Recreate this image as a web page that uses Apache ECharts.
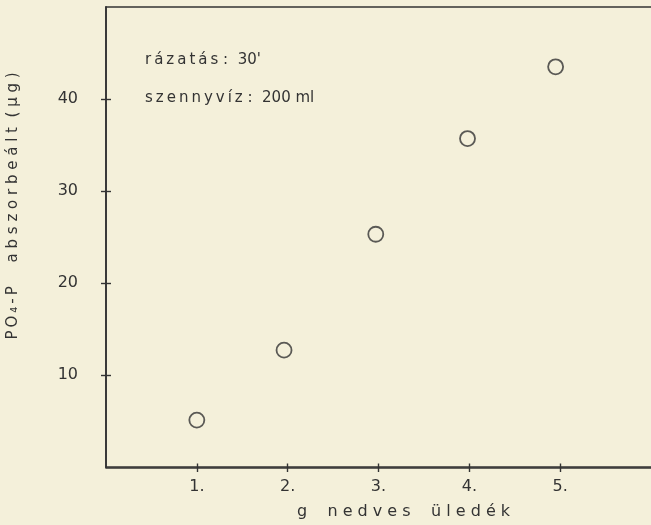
<!DOCTYPE html>
<html>
<head>
<meta charset="utf-8">
<script src="https://cdn.jsdelivr.net/npm/echarts@6/dist/echarts.min.js"></script>
<style>
  html, body { margin: 0; padding: 0; background: #f4f0da; }
  #chart { width: 651px; height: 525px; }
</style>
</head>
<body>
<div id="chart"></div>
<script>
// Adsorbed PO4-P versus mass of wet sediment
const sedimentGrams = [1, 1.96, 2.97, 3.98, 4.95];
const adsorbedPO4P = [5.1, 12.7, 25.3, 35.7, 43.5];
const xTickValues = [1, 2, 3, 4, 5];
const xTickLabels = ['1.', '2.', '3.', '4.', '5.'];
const yTickValues = [10, 20, 30, 40];

// hand-lettered look: thin spaces between letters
const spaced = s => s.split('').join('\u2009');
const notes = [spaced('rázatás') + ' :  30\'', spaced('szennyvíz') + ' :  200 ml'];
const xName = 'g    n e d v e s    ü l e d é k';
const yName = spaced('PO₄-P') + '     a b s z o r b e á l t  ( µ g )';

const ink = '#333333';
const font = 'DejaVu Sans';

const points = sedimentGrams.map((g, i) => [g, adsorbedPO4P[i]]);
const xLabelOf = Object.fromEntries(xTickValues.map((v, i) => [v, xTickLabels[i]]));

const tickStyle = { color: ink, width: 1.4 };
const frameLine = { show: true, lineStyle: { color: ink, width: 1.6 } };
const gridBox = { left: 106, top: 7, width: 552, height: 460.5 };

const chart = echarts.init(document.getElementById('chart'));
chart.setOption({
  backgroundColor: '#f4f0da',
  animation: false,
  // second grid carries the inner half of each tick mark
  grid: [gridBox, gridBox],
  xAxis: [
    {
      gridIndex: 0, type: 'value', min: 0, max: 6, position: 'bottom',
      axisLine: frameLine,
      axisTick: { show: true, length: 5, customValues: xTickValues, lineStyle: tickStyle },
      axisLabel: {
        show: true, customValues: xTickValues, margin: 12,
        formatter: v => xLabelOf[v] || '',
        color: ink, fontFamily: font, fontSize: 16
      },
      splitLine: { show: false },
      name: xName,
      nameLocation: 'middle', nameGap: 37,
      nameTextStyle: { color: ink, fontFamily: font, fontSize: 16, padding: [0, 0, 0, 50] }
    },
    {
      gridIndex: 0, type: 'value', min: 0, max: 6, position: 'top',
      axisLine: frameLine,
      axisTick: { show: false }, axisLabel: { show: false }, splitLine: { show: false }
    },
    {
      gridIndex: 1, type: 'value', min: 0, max: 6, position: 'bottom',
      axisLine: frameLine,
      axisTick: { show: true, inside: true, length: 4, customValues: xTickValues, lineStyle: tickStyle },
      axisLabel: { show: false }, splitLine: { show: false }
    }
  ],
  yAxis: [
    {
      gridIndex: 0, type: 'value', min: 0, max: 50, interval: 10, position: 'left',
      axisLine: frameLine,
      axisTick: { show: true, length: 5, customValues: yTickValues, lineStyle: tickStyle },
      axisLabel: {
        show: true, customValues: yTickValues, margin: 28,
        color: ink, fontFamily: font, fontSize: 16
      },
      splitLine: { show: false }
    },
    {
      gridIndex: 1, type: 'value', min: 0, max: 50, interval: 10, position: 'left',
      axisLine: frameLine,
      axisTick: { show: true, inside: true, length: 5, customValues: yTickValues, lineStyle: tickStyle },
      axisLabel: { show: false }, splitLine: { show: false }
    }
  ],
  series: [{
    type: 'scatter',
    xAxisIndex: 0, yAxisIndex: 0,
    data: points,
    symbol: 'circle',
    symbolSize: 15,
    itemStyle: { color: 'rgba(0,0,0,0)', borderColor: ink, borderWidth: 1.8 }
  }],
  graphic: [
    {
      type: 'text', left: 145, top: 53,
      style: { text: notes[0], fill: ink, font: '15px "DejaVu Sans"' }
    },
    {
      type: 'text', left: 145, top: 91,
      style: { text: notes[1], fill: ink, font: '15px "DejaVu Sans"' }
    },
    {
      type: 'text', x: 13, y: 206, rotation: Math.PI / 2,
      style: {
        text: yName,
        fill: ink, font: '15px "DejaVu Sans"',
        align: 'center', verticalAlign: 'middle'
      }
    }
  ]
});
</script>
</body>
</html>
